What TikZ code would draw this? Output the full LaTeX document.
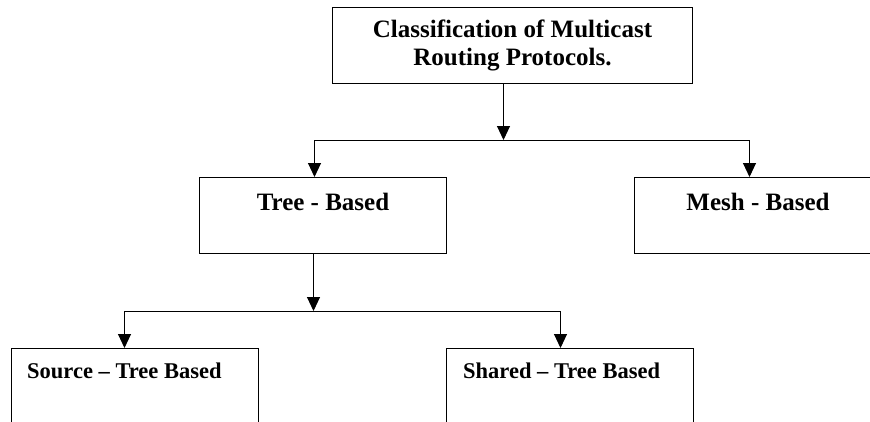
\documentclass[tikz,border=0pt]{standalone}
\usepackage{fontspec}
\setmainfont{Liberation Serif}
\usetikzlibrary{arrows.meta,calc}
\begin{document}
\begin{tikzpicture}[x=1pt,y=-1pt,
  box/.style={draw, line width=1pt, inner sep=0pt, minimum width=247pt, minimum height=76pt, anchor=north west},
  lbl/.style={font=\fontsize{25}{28}\selectfont\bfseries, inner sep=0pt},
  small/.style={font=\fontsize{22.5}{26}\selectfont\bfseries, inner sep=0pt},
  conn/.style={line width=1pt, -{Triangle[length=14pt,width=13pt]}},
  wire/.style={line width=1pt}]
\useasboundingbox (0,0) rectangle (870,421);
\clip (0,0) rectangle (870,421);
% boxes
\node[box, minimum width=360pt, align=center, font=\fontsize{25}{28}\selectfont\bfseries] (top) at (332,7) {Classification of Multicast\\Routing Protocols.};
\node[box] (tree) at (199,177) {};
\node[box] (mesh) at (634,177) {};
\node[box, minimum height=110pt] (source) at (11,348) {};
\node[box, minimum height=110pt] (shared) at (446,348) {};
% labels
\node[lbl, anchor=base] (treet) at ($(tree.north)+(0,33)$) {Tree - Based};
\node[lbl, anchor=base] (mesht) at ($(mesh.north)+(0,33)$) {Mesh - Based};
\node[small, anchor=base west] (srct) at ($(source.north west)+(16,30)$) {Source – Tree Based};
\node[small, anchor=base west] (shrt) at ($(shared.north west)+(17,30)$) {Shared – Tree Based};
% connectors
\coordinate (j1) at ($(top.south)+(-9,56)$);
\draw[conn] ($(top.south)+(-9,0)$) -- (j1);
\draw[conn] (j1) -| ($(tree.north)+(-8.5,0)$);
\draw[conn] (j1) -| ($(mesh.north)+(-8.5,0)$);
\coordinate (j2) at ($(tree.south)+(-9.5,57)$);
\draw[conn] ($(tree.south)+(-9.5,0)$) -- (j2);
\draw[conn] (j2) -| ($(source.north)+(-10.5,0)$);
\draw[conn] (j2) -| ($(shared.north)+(-9.5,0)$);
\end{tikzpicture}
\end{document}
